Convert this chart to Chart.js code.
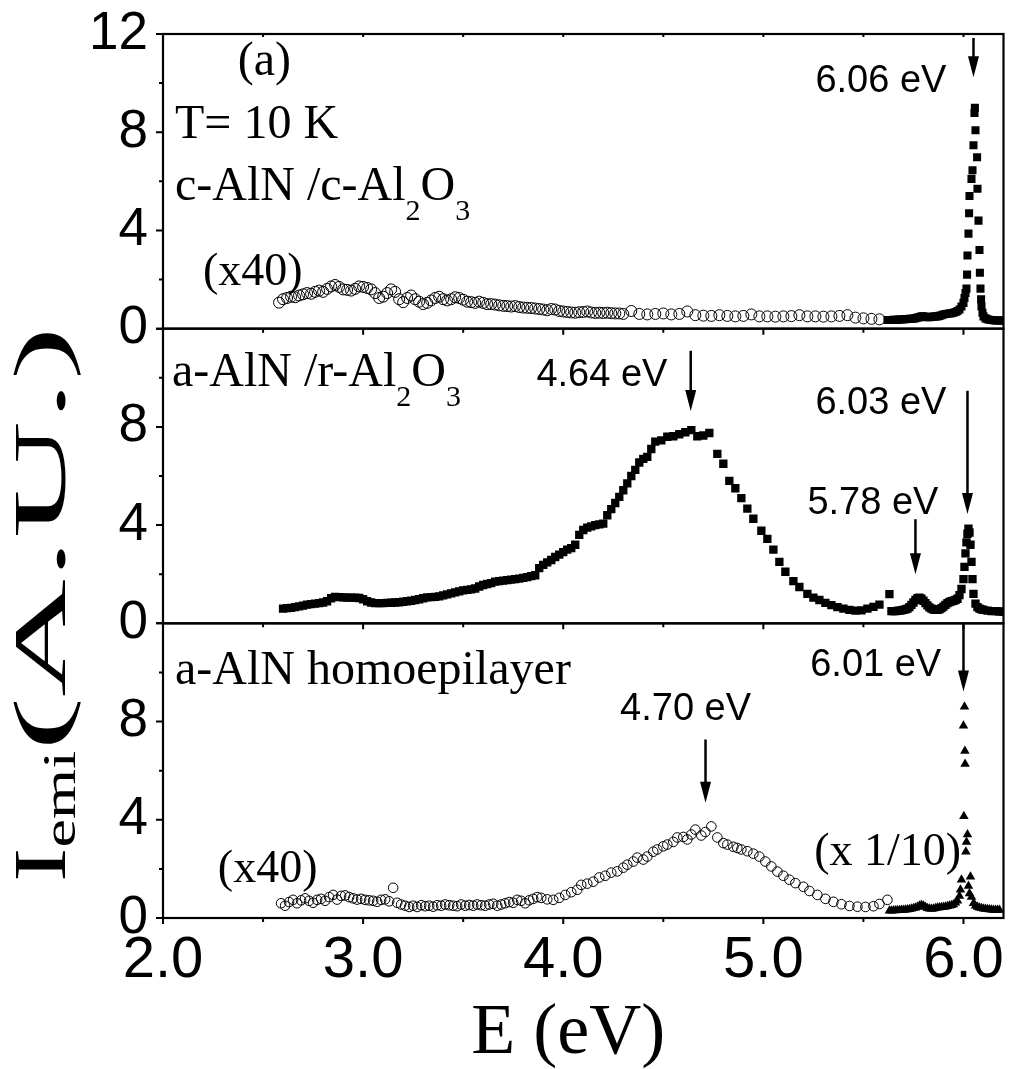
<!DOCTYPE html>
<html><head><meta charset="utf-8">
<script src="https://cdn.jsdelivr.net/npm/chart.js@4.4.1/dist/chart.umd.min.js"></script>
<style>html,body{margin:0;padding:0;background:#fff;}canvas{display:block;}</style>
</head><body>
<canvas id="c" width="1010" height="1069"></canvas>
<script>
// ---------- data ----------
const xTickLabels = [2, 3, 4, 5, 6];
const xMinorTicks = [2, 2.5, 3, 3.5, 4, 4.5, 5, 5.5, 6];
const yTicksTop = [0, 4, 8, 12];
const yTicksOther = [0, 4, 8];
const yMinorTicks = [2, 6, 10];

// top panel: c-AlN / c-Al2O3  (open circles x40, filled squares)
const topCircE = [2.58,2.60,2.62,2.64,2.66,2.68,2.70,2.72,2.74,2.76,2.78,2.80,2.82,2.84,2.86,2.88,2.90,2.92,2.94,2.96,2.98,3.00,3.02,3.04,3.06,3.08,3.10,3.12,3.14,3.16,3.18,3.20,3.22,3.24,3.26,3.28,3.30,3.32,3.34,3.36,3.38,3.40,3.42,3.44,3.46,3.48,3.50,3.52,3.54,3.56,3.58,3.60,3.62,3.64,3.66,3.68,3.70,3.72,3.74,3.76,3.78,3.80,3.82,3.84,3.86,3.88,3.90,3.92,3.94,3.96,3.98,4.00,4.02,4.04,4.06,4.08,4.10,4.12,4.14,4.16,4.18,4.20,4.22,4.24,4.26,4.28,4.30,4.34,4.38,4.42,4.46,4.50,4.54,4.58,4.62,4.66,4.70,4.74,4.78,4.82,4.86,4.90,4.94,4.98,5.02,5.06,5.10,5.14,5.18,5.22,5.26,5.30,5.34,5.38,5.42,5.46,5.50,5.54,5.58];
const topCircI = [1.06,1.20,1.25,1.30,1.28,1.35,1.40,1.45,1.42,1.50,1.55,1.50,1.62,1.72,1.78,1.70,1.60,1.58,1.55,1.62,1.72,1.70,1.66,1.60,1.45,1.25,1.30,1.45,1.60,1.50,1.20,1.08,1.25,1.35,1.20,1.10,1.00,1.05,1.15,1.25,1.30,1.20,1.15,1.20,1.28,1.25,1.18,1.10,1.08,1.05,1.10,1.05,1.00,1.00,0.98,0.95,0.93,0.92,0.90,0.92,0.88,0.86,0.85,0.84,0.82,0.80,0.78,0.75,0.80,0.78,0.72,0.70,0.68,0.66,0.65,0.67,0.68,0.70,0.66,0.64,0.65,0.64,0.65,0.63,0.62,0.62,0.60,0.72,0.60,0.58,0.60,0.62,0.58,0.60,0.70,0.55,0.53,0.52,0.55,0.52,0.50,0.52,0.58,0.50,0.50,0.49,0.50,0.51,0.55,0.50,0.50,0.49,0.50,0.52,0.55,0.45,0.42,0.40,0.38];
const topSqE = [5.62,5.63,5.64,5.65,5.66,5.67,5.68,5.69,5.70,5.71,5.72,5.73,5.74,5.75,5.76,5.77,5.78,5.79,5.80,5.81,5.82,5.83,5.84,5.85,5.86,5.87,5.88,5.89,5.90,5.91,5.92,5.93,5.94,5.95,5.96,5.97,5.98,5.99,6.00,6.005,6.01,6.015,6.018,6.02,6.025,6.028,6.03,6.04,6.045,6.05,6.055,6.057,6.06,6.068,6.07,6.075,6.08,6.082,6.085,6.088,6.09,6.095,6.10,6.11,6.12,6.13,6.14,6.15,6.16,6.17,6.18,6.19,6.20];
const topSqI = [0.35,0.35,0.35,0.36,0.36,0.36,0.37,0.37,0.38,0.38,0.39,0.40,0.40,0.41,0.43,0.45,0.47,0.50,0.50,0.48,0.47,0.47,0.48,0.49,0.50,0.50,0.52,0.55,0.58,0.60,0.61,0.62,0.63,0.65,0.68,0.72,0.78,0.90,1.05,1.25,1.45,1.63,2.20,2.98,3.87,4.70,5.40,6.10,6.45,7.47,8.78,9.00,8.08,6.98,5.70,4.40,3.20,2.28,1.63,1.20,0.90,0.65,0.50,0.42,0.38,0.36,0.35,0.34,0.33,0.33,0.33,0.33,0.33];

// middle panel: a-AlN / r-Al2O3 (filled squares)
const midSqE = [2.60,2.62,2.64,2.66,2.68,2.70,2.72,2.74,2.76,2.78,2.80,2.82,2.84,2.86,2.88,2.90,2.92,2.94,2.96,2.98,3.00,3.02,3.04,3.06,3.08,3.10,3.12,3.14,3.16,3.18,3.20,3.22,3.24,3.26,3.28,3.30,3.32,3.34,3.36,3.38,3.40,3.42,3.44,3.46,3.48,3.50,3.52,3.54,3.56,3.58,3.60,3.62,3.64,3.66,3.68,3.70,3.72,3.74,3.76,3.78,3.80,3.82,3.84,3.86,3.88,3.90,3.92,3.94,3.96,3.98,4.00,4.02,4.04,4.06,4.08,4.10,4.12,4.14,4.16,4.18,4.20,4.22,4.24,4.26,4.28,4.30,4.32,4.34,4.36,4.38,4.40,4.42,4.44,4.46,4.49,4.52,4.55,4.58,4.61,4.64,4.67,4.70,4.73,4.77,4.80,4.83,4.86,4.89,4.92,4.95,4.99,5.02,5.05,5.08,5.11,5.15,5.18,5.22,5.25,5.28,5.31,5.34,5.37,5.40,5.43,5.46,5.49,5.52,5.55,5.58,5.63,5.64,5.65,5.66,5.67,5.68,5.69,5.70,5.71,5.72,5.73,5.74,5.75,5.76,5.77,5.78,5.79,5.80,5.81,5.82,5.83,5.84,5.85,5.86,5.87,5.88,5.89,5.90,5.91,5.92,5.93,5.94,5.95,5.96,5.97,5.98,5.99,6.00,6.005,6.01,6.015,6.02,6.025,6.03,6.035,6.04,6.045,6.05,6.06,6.07,6.08,6.09,6.10,6.12,6.14,6.16,6.18,6.20];
const midSqI = [0.60,0.62,0.63,0.66,0.69,0.72,0.76,0.78,0.80,0.82,0.85,0.90,1.02,1.08,1.07,1.06,1.05,1.05,1.04,1.03,0.98,0.90,0.85,0.82,0.82,0.82,0.83,0.84,0.85,0.86,0.88,0.90,0.92,0.95,0.98,1.02,1.06,1.07,1.08,1.10,1.14,1.18,1.22,1.26,1.30,1.34,1.36,1.38,1.42,1.50,1.56,1.60,1.64,1.70,1.72,1.74,1.76,1.78,1.80,1.82,1.85,1.88,1.92,1.96,2.25,2.38,2.48,2.58,2.70,2.80,2.90,3.00,3.06,3.20,3.60,3.80,3.90,3.95,4.00,4.03,4.06,4.40,4.65,4.90,5.15,5.42,5.70,6.00,6.25,6.55,6.70,6.78,7.10,7.40,7.45,7.60,7.62,7.70,7.78,7.87,7.62,7.65,7.75,6.90,6.50,5.80,5.50,5.10,4.67,4.26,3.77,3.44,3.00,2.50,2.10,1.72,1.48,1.20,1.05,0.95,0.83,0.74,0.66,0.60,0.55,0.52,0.53,0.60,0.67,0.76,1.19,0.50,0.50,0.50,0.51,0.52,0.53,0.55,0.57,0.60,0.66,0.75,0.85,0.95,1.02,1.05,1.00,0.92,0.82,0.73,0.65,0.60,0.56,0.55,0.55,0.57,0.62,0.68,0.75,0.82,0.87,0.90,0.92,0.95,1.00,1.15,1.40,1.80,2.30,2.85,3.30,3.65,3.85,3.70,3.20,2.50,1.80,1.20,0.80,0.66,0.60,0.57,0.55,0.52,0.50,0.50,0.48,0.47];

// bottom panel: a-AlN homoepilayer (open circles x40, filled triangles x1/10)
const botCircE = [2.59,2.61,2.63,2.65,2.67,2.69,2.71,2.73,2.75,2.77,2.79,2.81,2.83,2.85,2.87,2.89,2.91,2.93,2.95,2.97,2.99,3.01,3.03,3.05,3.07,3.09,3.11,3.13,3.15,3.17,3.19,3.21,3.23,3.25,3.27,3.29,3.31,3.33,3.35,3.37,3.39,3.41,3.43,3.45,3.47,3.49,3.51,3.53,3.55,3.57,3.59,3.61,3.63,3.65,3.67,3.69,3.71,3.73,3.75,3.77,3.79,3.81,3.83,3.85,3.87,3.89,3.92,3.95,3.98,4.01,4.04,4.07,4.09,4.12,4.15,4.18,4.21,4.24,4.27,4.30,4.32,4.35,4.37,4.40,4.42,4.45,4.47,4.50,4.52,4.55,4.57,4.60,4.62,4.64,4.66,4.69,4.71,4.74,4.77,4.80,4.82,4.85,4.87,4.89,4.92,4.95,4.98,5.01,5.04,5.07,5.10,5.13,5.16,5.20,5.23,5.27,5.31,5.35,5.39,5.43,5.47,5.51,5.55,5.58,5.62];
const botCircI = [0.60,0.50,0.65,0.74,0.60,0.72,0.80,0.70,0.62,0.74,0.78,0.70,0.85,0.94,0.75,0.90,0.92,0.85,0.80,0.75,0.78,0.74,0.72,0.70,0.66,0.74,0.76,0.68,1.23,0.62,0.55,0.50,0.45,0.50,0.45,0.52,0.48,0.50,0.46,0.52,0.50,0.55,0.52,0.50,0.48,0.55,0.50,0.53,0.50,0.55,0.52,0.50,0.55,0.58,0.50,0.55,0.60,0.65,0.62,0.74,0.70,0.60,0.72,0.78,0.85,0.82,0.76,0.74,0.82,0.94,1.05,1.15,1.35,1.40,1.48,1.65,1.72,1.85,1.90,2.05,2.17,2.30,2.46,2.38,2.50,2.70,2.79,2.92,2.99,3.10,3.28,3.30,3.20,3.40,3.60,3.36,3.50,3.73,3.28,3.05,2.99,2.90,2.85,2.79,2.72,2.62,2.50,2.30,2.10,1.89,1.72,1.56,1.42,1.27,1.10,0.94,0.78,0.66,0.56,0.49,0.46,0.45,0.48,0.57,0.74];
const botTriE = [5.63,5.64,5.65,5.66,5.67,5.68,5.69,5.70,5.71,5.72,5.73,5.74,5.75,5.76,5.77,5.78,5.79,5.80,5.81,5.82,5.83,5.84,5.85,5.86,5.87,5.88,5.89,5.90,5.91,5.92,5.93,5.94,5.95,5.96,5.97,5.98,5.985,5.99,6.00,6.002,6.005,6.007,6.008,6.012,6.015,6.02,6.025,6.03,6.035,6.04,6.05,6.06,6.07,6.08,6.09,6.10,6.11,6.12,6.13,6.14,6.15,6.16,6.17,6.18];
const botTriI = [0.30,0.30,0.31,0.31,0.32,0.32,0.33,0.33,0.34,0.35,0.36,0.38,0.40,0.42,0.45,0.50,0.53,0.50,0.45,0.40,0.38,0.37,0.38,0.40,0.42,0.43,0.44,0.45,0.46,0.48,0.50,0.52,0.55,0.62,0.70,0.90,1.15,1.56,7.83,4.14,8.60,6.80,6.27,2.70,3.10,3.40,1.30,1.00,1.68,0.86,0.60,0.50,0.45,0.42,0.40,0.38,0.37,0.36,0.35,0.34,0.33,0.33,0.33,0.33];

// ---------- helpers ----------
const pts = (xs, ys) => xs.map((x, i) => ({x: x, y: ys[i]}));
const SERIF = 'Liberation Serif';
const SANS = 'Liberation Sans';

function zeroPad(s) { s.paddingTop = 0; s.paddingBottom = 0; s.paddingLeft = 0; s.paddingRight = 0; }

function yScaleCfg(tickList) {
  return {
    type: 'linear', position: 'left', stack: 'panels', stackWeight: 1, min: 0, max: 12,
    afterFit: s => { s.width = 163; zeroPad(s); },
    afterBuildTicks: s => { s.ticks = tickList.map(v => ({value: v})); },
    grid: {display: false, drawTicks: false}, border: {display: false},
    ticks: {autoSkip: false, padding: 15, color: '#000', font: {family: SANS, size: 53}, callback: v => String(v)}
  };
}

function ds(data, axis, style, r, filled) {
  return {
    data: data, yAxisID: axis, xAxisID: 'x', showLine: false,
    pointStyle: style, pointRadius: r, pointHoverRadius: r,
    pointBorderColor: '#000', pointBorderWidth: filled ? 0 : 1,
    pointBackgroundColor: filled ? '#000' : 'rgba(0,0,0,0)'
  };
}

function rich(ctx, parts, x, y, size, subSize, subDy) {
  let cx = x;
  ctx.textAlign = 'left'; ctx.textBaseline = 'alphabetic';
  for (const p of parts) {
    ctx.font = (p.sub ? subSize : size) + 'px "' + (p.f || SERIF) + '"';
    ctx.fillText(p.t, cx, y + (p.sub ? subDy : 0));
    cx += ctx.measureText(p.t).width;
  }
}

function arrow(ctx, x, y1, y2) {
  const hl = 21, hw = 5.5;
  ctx.lineWidth = 2.5;
  ctx.beginPath(); ctx.moveTo(x, y1); ctx.lineTo(x, y2 - hl + 2); ctx.stroke();
  ctx.beginPath(); ctx.moveTo(x - hw, y2 - hl); ctx.lineTo(x + hw, y2 - hl); ctx.lineTo(x, y2); ctx.closePath(); ctx.fill();
}

const framePlugin = {
  id: 'frames',
  afterDraw(chart) {
    const ctx = chart.ctx, ca = chart.chartArea, sx = chart.scales.x;
    const panels = [chart.scales.yTop, chart.scales.yMid, chart.scales.yBot];
    ctx.save();
    ctx.strokeStyle = '#000'; ctx.fillStyle = '#000';
    panels.forEach((s, idx) => {
      ctx.lineWidth = 2.2;
      ctx.strokeRect(ca.left, s.top, ca.right - ca.left, s.bottom - s.top);
      ctx.lineWidth = 2;
      ctx.beginPath();
      for (const v of [0, 4, 8, 12]) { const y = s.getPixelForValue(v); ctx.moveTo(ca.left - 7, y); ctx.lineTo(ca.left, y); }
      for (const v of yMinorTicks) { const y = s.getPixelForValue(v); ctx.moveTo(ca.left - 4, y); ctx.lineTo(ca.left, y); }
      for (const e of xMinorTicks) {
        const x = sx.getPixelForValue(e); const len = Number.isInteger(e) ? 6 : 4;
        ctx.moveTo(x, s.bottom); ctx.lineTo(x, s.bottom + len);
        if (idx === 0) { ctx.moveTo(x, s.top); ctx.lineTo(x, s.top + 3); }
      }
      ctx.stroke();
    });
    const P = (s, e, v) => [sx.getPixelForValue(e), s.getPixelForValue(v)];
    const T = chart.scales.yTop, M = chart.scales.yMid, B = chart.scales.yBot;
    let p;
    // top panel texts
    p = P(T, 2.373, 10.33); rich(ctx, [{t: '(a)'}], p[0], p[1], 48, 30, 0);
    p = P(T, 2.06, 7.76); rich(ctx, [{t: 'T= 10 K'}], p[0], p[1], 48, 30, 0);
    p = P(T, 2.06, 5.22); rich(ctx, [{t: 'c-AlN /c-Al'}, {t: '2', sub: true}, {t: 'O'}, {t: '3', sub: true}], p[0], p[1], 48, 30, 20);
    p = P(T, 2.2, 1.76); rich(ctx, [{t: '(x40)'}], p[0], p[1], 46, 30, 0);
    p = P(T, 5.26, 9.63); rich(ctx, [{t: '6.06 eV', f: SANS}], p[0], p[1], 38, 30, 0);
    arrow(ctx, sx.getPixelForValue(6.05), T.getPixelForValue(11.84), T.getPixelForValue(10.24));
    // middle panel texts
    p = P(M, 2.045, 9.67); rich(ctx, [{t: 'a-AlN /r-Al'}, {t: '2', sub: true}, {t: 'O'}, {t: '3', sub: true}], p[0], p[1], 48, 30, 20);
    p = P(M, 3.866, 9.67); rich(ctx, [{t: '4.64 eV', f: SANS}], p[0], p[1], 38, 30, 0);
    arrow(ctx, sx.getPixelForValue(4.637), M.getPixelForValue(11.1), M.getPixelForValue(8.65));
    p = P(M, 5.26, 8.53); rich(ctx, [{t: '6.03 eV', f: SANS}], p[0], p[1], 38, 30, 0);
    arrow(ctx, sx.getPixelForValue(6.02), M.getPixelForValue(9.47), M.getPixelForValue(4.45));
    p = P(M, 5.22, 4.45); rich(ctx, [{t: '5.78 eV', f: SANS}], p[0], p[1], 38, 30, 0);
    arrow(ctx, sx.getPixelForValue(5.76), M.getPixelForValue(4.24), M.getPixelForValue(2.0));
    // bottom panel texts
    p = P(B, 2.06, 9.51); rich(ctx, [{t: 'a-AlN homoepilayer'}], p[0], p[1], 48, 30, 0);
    p = P(B, 5.234, 9.84); rich(ctx, [{t: '6.01 eV', f: SANS}], p[0], p[1], 38, 30, 0);
    arrow(ctx, sx.getPixelForValue(6.0), B.getPixelForValue(12.0), B.getPixelForValue(9.22));
    p = P(B, 4.284, 8.08); rich(ctx, [{t: '4.70 eV', f: SANS}], p[0], p[1], 38, 30, 0);
    arrow(ctx, sx.getPixelForValue(4.711), B.getPixelForValue(7.27), B.getPixelForValue(4.69));
    p = P(B, 2.274, 1.47); rich(ctx, [{t: '(x40)'}], p[0], p[1], 46, 30, 0);
    p = P(B, 5.254, 2.16); rich(ctx, [{t: '(x 1/10)'}], p[0], p[1], 46, 30, 0);
    // axis titles
    ctx.font = '72px "' + SERIF + '"'; ctx.textAlign = 'center'; ctx.textBaseline = 'alphabetic';
    ctx.fillText('E (eV)', (ca.left + ca.right) / 2 - 15, 1053);
    // y title, reads bottom to top; starts at y=882
    ctx.save();
    ctx.translate(65, 882); ctx.rotate(-Math.PI / 2);
    ctx.textAlign = 'left';
    const parts = [{t: 'I', s: 74, k: 1.4, dy: 0}, {t: 'emi', s: 46, k: 1.4, dy: 10}, {t: '(A.U.)', s: 74, k: 2.2, dy: 0}];
    let cx = 0;
    for (const q of parts) {
      ctx.font = q.s + 'px "' + SERIF + '"';
      ctx.save(); ctx.translate(cx, q.dy); ctx.scale(q.k, 1); ctx.fillText(q.t, 0, 0); ctx.restore();
      cx += ctx.measureText(q.t).width * q.k;
    }
    ctx.restore();
    ctx.restore();
  }
};

new Chart(document.getElementById('c'), {
  type: 'scatter',
  data: {
    datasets: [
      ds(pts(topCircE, topCircI), 'yTop', 'circle', 5.5, false),
      ds(pts(topSqE, topSqI), 'yTop', 'rect', 5.7, true),
      ds(pts(midSqE, midSqI), 'yMid', 'rect', 5.9, true),
      ds(pts(botCircE, botCircI), 'yBot', 'circle', 4.8, false),
      ds(pts(botTriE, botTriI), 'yBot', 'triangle', 5.5, true)
    ]
  },
  options: {
    responsive: false, animation: false, devicePixelRatio: 1,
    layout: {padding: {top: 34, right: 3, left: 0, bottom: 0}},
    plugins: {legend: {display: false}, tooltip: {enabled: false}},
    scales: {
      x: {
        type: 'linear', position: 'bottom', min: 2, max: 6.2,
        afterFit: s => { s.height = 151; zeroPad(s); },
        afterBuildTicks: s => { s.ticks = xTickLabels.map(v => ({value: v})); },
        grid: {display: false, drawTicks: false}, border: {display: false},
        ticks: {autoSkip: false, padding: 8, color: '#000', font: {family: SANS, size: 58}, callback: v => Number(v).toFixed(1)}
      },
      yBot: yScaleCfg(yTicksOther),
      yMid: yScaleCfg(yTicksOther),
      yTop: yScaleCfg(yTicksTop)
    }
  },
  plugins: [framePlugin]
});
</script>
</body></html>
